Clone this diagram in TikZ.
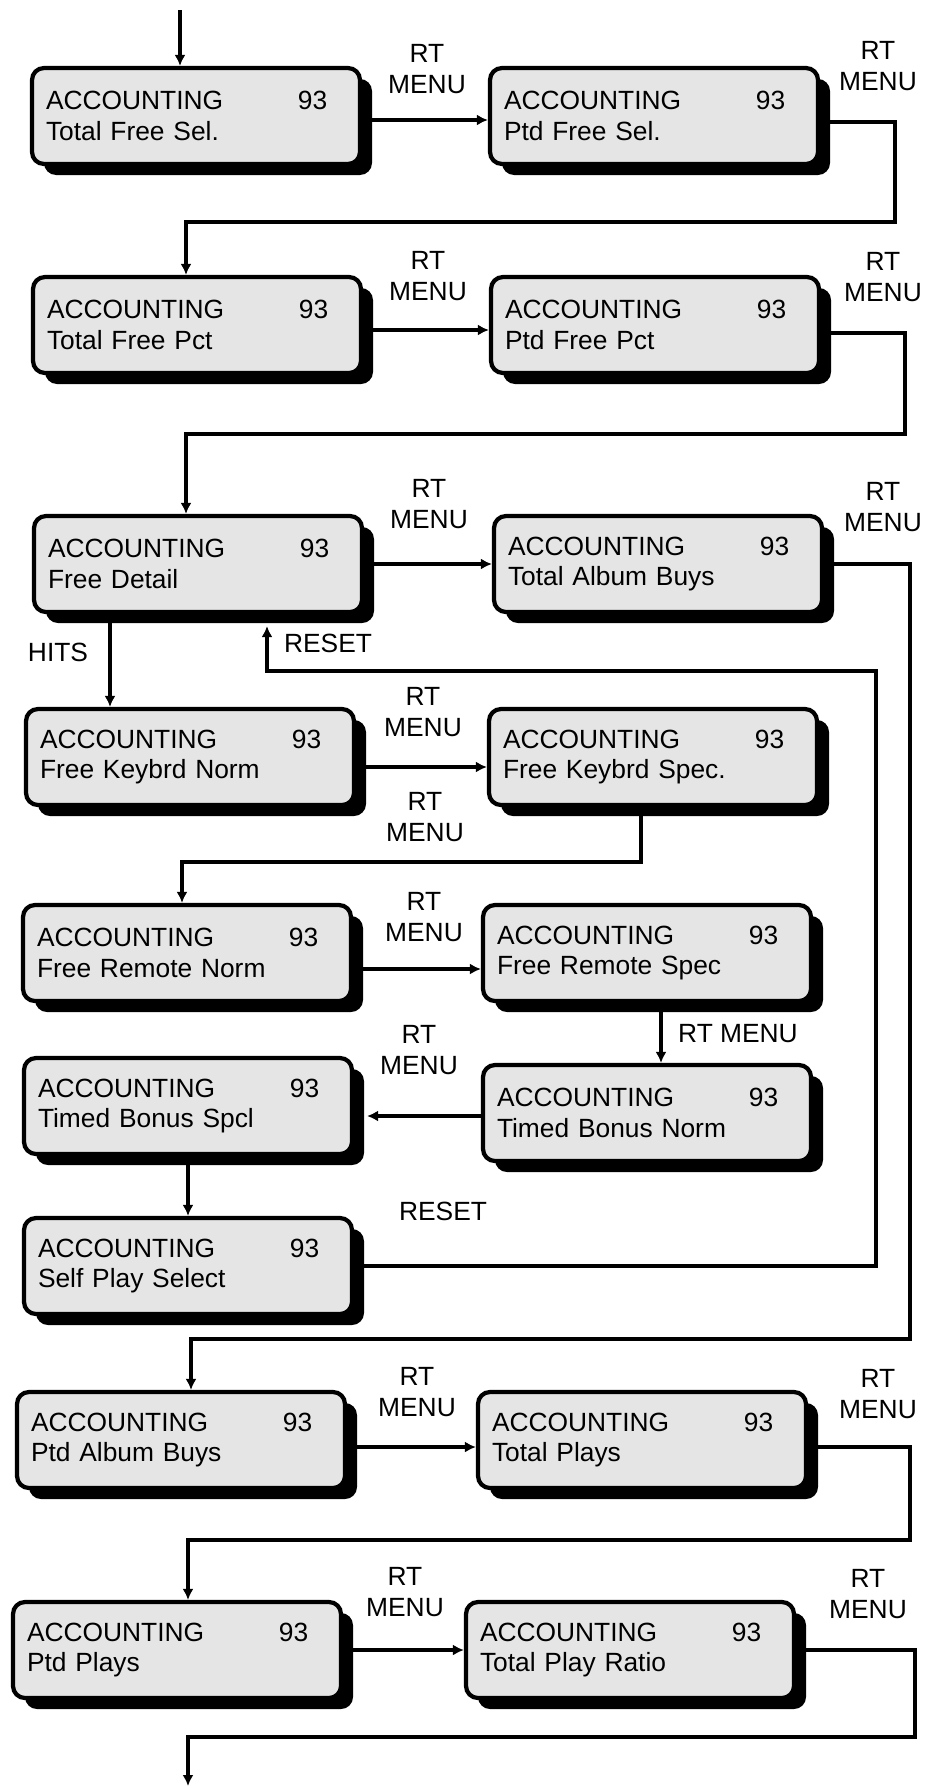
\documentclass[tikz,border=0pt]{standalone}
\usepackage{fontspec}
\setmainfont{Liberation Sans}
\usetikzlibrary{shadows,arrows.meta}

\tikzset{
  acct/.style={draw, line width=1.2pt, rounded corners=1.2mm, fill=black!10,
    minimum width=32.8mm, minimum height=9.6mm, inner xsep=1.4mm,
    text width=30mm, align=left,
    drop shadow={shadow xshift=1.2mm, shadow yshift=-1.1mm, fill=black, opacity=1}},
  flow/.style={line width=1.1pt, -{Latex[length=1.1mm,width=1.1mm]}},
  lbl/.style={align=center}
}

\begin{document}
\begin{tikzpicture}[x=0.1mm,y=-0.1mm,font=\fontsize{7.5}{8.6}\selectfont]
\useasboundingbox (0,0) rectangle (945,1788);

% accounting screens
\foreach \n/\x/\y/\t in {b1/196/116/Total Free Sel., b2/654/116/Ptd Free Sel.,
  b3/197/325/Total Free Pct, b4/655/325/Ptd Free Pct,
  b5/198/564/Free Detail, b6/658/564/Total Album Buys,
  b7/190/757/Free Keybrd Norm, b8/653/757/Free Keybrd Spec.,
  b9/187/953/Free Remote Norm, b10/647/953/Free Remote Spec,
  b11/188/1106/Timed Bonus Spcl, b12/647/1113/Timed Bonus Norm,
  b13/188/1266/Self Play Select,
  b14/181/1440/Ptd Album Buys, b15/642/1440/Total Plays,
  b16/177/1650/Ptd Plays, b17/630/1650/Total Play Ratio}{
  \node[acct] (\n) at (\x,\y) {ACCOUNTING\hfill\makebox[4.8mm][l]{93}\\\t};
}

\coordinate (in) at (180,10);
\coordinate (out) at (188,1786);

% RT MENU labels
\foreach \x/\y [count=\i] in {427/69, 878/66, 428/276, 883/277, 429/504, 883/507,
  423/712, 425/817, 424/917, 419/1050, 417/1392, 878/1394, 405/1592, 868/1594}{
  \node[lbl] (rt\i) at (\x,\y) {RT\\MENU};
}
\node[lbl] (rt15) at (738,1034) {RT MENU};
\node[lbl] (reset1) at (328,643) {RESET};
\node[lbl] (reset2) at (443,1211) {RESET};
\node[lbl] (hits) at (58,652) {HITS};

% connectors
\draw[flow] (in) -- (in |- b1.north);
\draw[flow] ([yshift=-0.4mm]b1.east) -- ([yshift=-0.4mm]b2.west);
\draw[flow] ([yshift=-0.6mm]b2.east) -| (895,222) -| ([xshift=-1.1mm]b3.north);
\draw[flow] ([yshift=-0.5mm]b3.east) -- ([yshift=-0.5mm]b4.west);
\draw[flow] ([yshift=-0.8mm]b4.east) -| (905,434) -| ([xshift=-1.2mm]b5.north);
\draw[flow] (b5.east) -- (b6.west);
\draw[flow] (b6.east) -| (910,1339) -| ([xshift=1mm]b14.north);
\draw[flow] ([xshift=-8.8mm]b5.south) -- ([xshift=-8.8mm]b5.south |- b7.north);
\draw[flow] ([yshift=-1mm]b7.east) -- ([yshift=-1mm]b8.west);
\draw[flow] ([xshift=-1.2mm]b8.south) -- ++(0,55) -| ([xshift=-0.5mm]b9.north);
\draw[flow] ([yshift=-1.6mm]b9.east) -- ([yshift=-1.6mm]b10.west);
\draw[flow] ([xshift=1.4mm]b10.south) -- ([xshift=1.4mm]b10.south |- b12.north);
\draw[flow] ([yshift=-0.3mm]b12.west) -- ([yshift=-0.3mm,xshift=1.3mm]b12.west -| b11.east);
\draw[flow] (b11.south) -- (b13.north);
\draw[flow] (b13.east) -| (876,671) -| ([xshift=6.9mm,yshift=-1.2mm]b5.south);
\draw[flow] ([yshift=-0.7mm]b14.east) -- ([yshift=-0.7mm]b15.west);
\draw[flow] ([yshift=-0.7mm]b15.east) -| (910,1540) -| ([xshift=1.1mm]b16.north);
\draw[flow] (b16.east) -- (b17.west);
\draw[flow] (b17.east) -| (915,1737) -| (out);

\end{tikzpicture}
\end{document}
